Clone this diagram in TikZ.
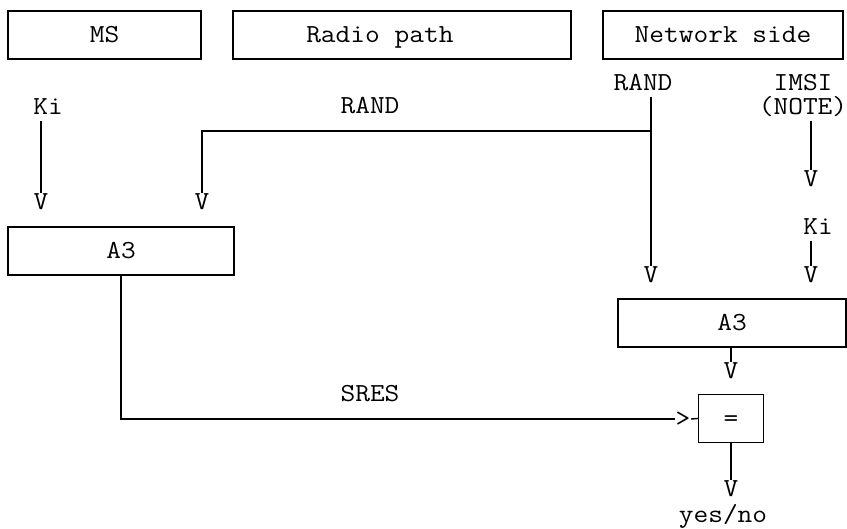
\documentclass[tikz,border=0pt]{standalone}
\usepackage{fontspec}
\newfontfamily\asciifont{Latin Modern Mono}[FakeStretch=1.1]
\begin{document}
\begin{tikzpicture}[x=1pt,y=-1pt,line width=1.4pt,
	every node/.style={font=\asciifont\fontsize{26}{24}\selectfont},
	blk/.style={draw,shape=rectangle,minimum height=48pt,inner sep=0pt,text height=15.9pt,text depth=0pt},
	lbl/.style={anchor=base,inner sep=0pt,text height=15.9pt,text depth=5pt},
	vmark/.style={anchor=north,inner sep=0pt,text height=15.9pt,text depth=0pt}]
\useasboundingbox (0,0) rectangle (847,529);
% boxes
\node[blk,minimum width=193pt,name=ms] at (104.5,35){MS~};
\node[blk,minimum width=338pt,name=radio] at (402,35){Radio path~~~~};
\node[blk,minimum width=240pt,name=net] at (723,35){Network side};
\node[blk,minimum width=226pt,name=a3ms] at (121,251){A3~};
\node[blk,minimum width=228pt,name=a3net] at (732,323){A3~};
\node[blk,minimum width=65pt,name=cmp] at (731,418.5){=};
% labels
\node[lbl,name=kiMS] at (48,115){Ki};
\node[lbl,name=randMid] at (370,114){RAND};
\node[lbl,name=randNet] at (643,91){RAND};
\node[lbl,name=imsi] at (803,91){IMSI};
\node[lbl,name=note] at (803,115){(NOTE)};
\node[lbl,name=kiNet] at (818,235){Ki};
\node[lbl,name=sres] at (370,402){SRES};
\node[lbl,name=yesno] at (723,522){yes/no};
% arrow heads
\foreach \n/\x/\y in {vKiMS/41/193,vRandMS/202/193,vRandNet/651/266,vImsi/811/170,vKiNet/811/266,vA3/731/362,vCmp/731/480}{
	\node[vmark,name=\n] at (\x,\y){V};
};
\node[inner sep=0pt,name=gt] at (683,419){>};
% connectors
\foreach \a/\b in {kiMS/vKiMS,randNet/vRandNet,note/vImsi,kiNet/vKiNet,a3net/vA3,cmp/vCmp}{
	\draw (\b.north |- \a.south)--(\b.north);
};
\coordinate (split) at (651,131);
\draw (split) -| (vRandMS.north);
\draw (a3ms.south) |- (gt.west);
\draw (gt.east)--(cmp.west);
\end{tikzpicture}
\end{document}
